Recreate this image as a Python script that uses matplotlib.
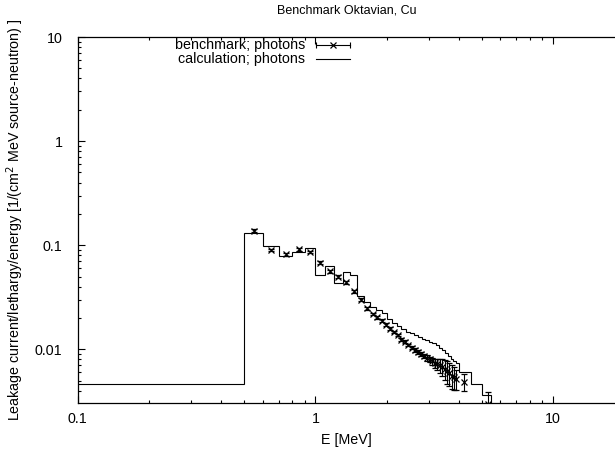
import matplotlib
matplotlib.use('AGG')
import matplotlib.pyplot as plt
import numpy as np

# calculation; photons  (histogram, bin edges in MeV and value per bin)
calc_edges = [0.1, 0.5, 0.6, 0.7, 0.8, 0.9, 1.0, 1.1, 1.2, 1.3, 1.4, 1.5,
              1.6, 1.7, 1.8, 1.9, 2.0, 2.1, 2.2, 2.3, 2.4, 2.5, 2.6, 2.7,
              2.8, 2.9, 3.0, 3.1, 3.2, 3.3, 3.4, 3.5, 3.6, 3.7, 3.8, 3.9,
              4.0, 4.5, 5.0, 5.5, 6.0]
calc_vals = [0.0046, 0.130, 0.099, 0.079, 0.0855, 0.095, 0.052, 0.063,
             0.043, 0.0555, 0.0518, 0.0325, 0.0287, 0.0257, 0.0240, 0.0225,
             0.0195, 0.0180, 0.0168, 0.0158, 0.0148, 0.0142, 0.0136, 0.0130,
             0.0125, 0.0122, 0.0118, 0.0114, 0.0109, 0.0104, 0.0098, 0.0092,
             0.0086, 0.0081, 0.0077, 0.0074, 0.0061, 0.0046, 0.0036, 0.002]

# benchmark; photons  (points with relative error)
bench_E = [0.55, 0.65, 0.75, 0.85, 0.95, 1.05, 1.15, 1.25, 1.35, 1.45, 1.55,
           1.65, 1.75, 1.82, 1.9, 1.98, 2.06, 2.14, 2.22, 2.3, 2.38, 2.46,
           2.54, 2.62, 2.7, 2.78, 2.86, 2.94, 3.02, 3.1, 3.18, 3.26, 3.34,
           3.42, 3.5, 3.58, 3.66, 3.74, 3.82, 3.9, 4.2, 5.3]
bench_y = [0.138, 0.090, 0.082, 0.091, 0.086, 0.068, 0.056, 0.050, 0.044,
           0.036, 0.030, 0.0248, 0.0218, 0.0203, 0.0188, 0.0172, 0.0158,
           0.0147, 0.0137, 0.0124, 0.0118, 0.0110, 0.0104, 0.0099, 0.0094,
           0.0090, 0.0086, 0.0083, 0.0080, 0.0077, 0.0074, 0.0072, 0.0070,
           0.0068, 0.0065, 0.0062, 0.0059, 0.0056, 0.0054, 0.0052, 0.0049,
           0.0030]
bench_rel = [0.03, 0.03, 0.03, 0.03, 0.03, 0.03, 0.03, 0.03, 0.03, 0.03, 0.03,
             0.03, 0.03, 0.03, 0.03, 0.03, 0.03, 0.03, 0.03, 0.03, 0.03, 0.03,
             0.04, 0.04, 0.04, 0.05, 0.05, 0.06, 0.06, 0.08, 0.10, 0.12, 0.15,
             0.18, 0.22, 0.25, 0.25, 0.25, 0.25, 0.22, 0.18, 0.30]

plt.rcParams['font.family'] = ['Liberation Sans', 'DejaVu Sans']
plt.rcParams['font.size'] = 10.3

fig = plt.figure(figsize=(6.15, 4.54), dpi=100)
ax = fig.add_axes([0.1263, 0.113, 0.8737, 0.8055])

ax.stairs(calc_vals, calc_edges, color='k', linewidth=0.8, baseline=None)

by = np.array(bench_y)
berr = by * np.array(bench_rel)
ax.errorbar(bench_E, by, yerr=berr, fmt='x', color='k', markersize=4,
            markeredgewidth=0.9, elinewidth=0.8, capsize=2.2, capthick=0.8)

ax.set_xscale('log')
ax.set_yscale('log')
ax.set_xlim(0.1, 18.2)
ax.set_ylim(0.00307, 10)
ax.set_xticks([0.1, 1, 10])
ax.set_xticklabels(['0.1', '1', '10'])
ax.set_yticks([0.01, 0.1, 1, 10])
ax.set_yticklabels(['0.01', '0.1', '1', '10'])
ax.tick_params(which='both', direction='in', top=True, right=False)
ax.tick_params(which='major', length=5, width=0.8)
ax.tick_params(axis='x', which='major', pad=7)
ax.tick_params(axis='y', which='major', pad=11)
ax.tick_params(which='minor', length=2.5, width=0.8)
ax.spines['right'].set_visible(False)
for s in ['left', 'bottom', 'top']:
    ax.spines[s].set_linewidth(0.9)

ax.set_xlabel('E [MeV]', labelpad=5)
ax.set_ylabel('Leakage current/lethargy/energy [1/(cm$^2$ MeV source-neutron) ]',
              labelpad=6)
ax.set_title('Benchmark Oktavian, Cu', fontsize=9, pad=17)

# gnuplot-style key, drawn by hand
tr = ax.transAxes
ax.text(0.423, 0.978, 'benchmark; photons', transform=tr, ha='right', va='center')
ax.plot([0.444, 0.507], [0.978, 0.978], color='k', lw=0.8, transform=tr, clip_on=False)
ax.plot([0.444, 0.507], [0.978, 0.978], ls='none', marker='|', ms=5, mew=0.8,
        color='k', transform=tr, clip_on=False)
ax.plot([0.475], [0.978], ls='none', marker='x', ms=4, mew=0.9, color='k',
        transform=tr, clip_on=False)
ax.text(0.423, 0.94, 'calculation; photons', transform=tr, ha='right', va='center')
ax.plot([0.444, 0.507], [0.94, 0.94], color='k', lw=0.8, transform=tr, clip_on=False)

plt.savefig('out.png')
